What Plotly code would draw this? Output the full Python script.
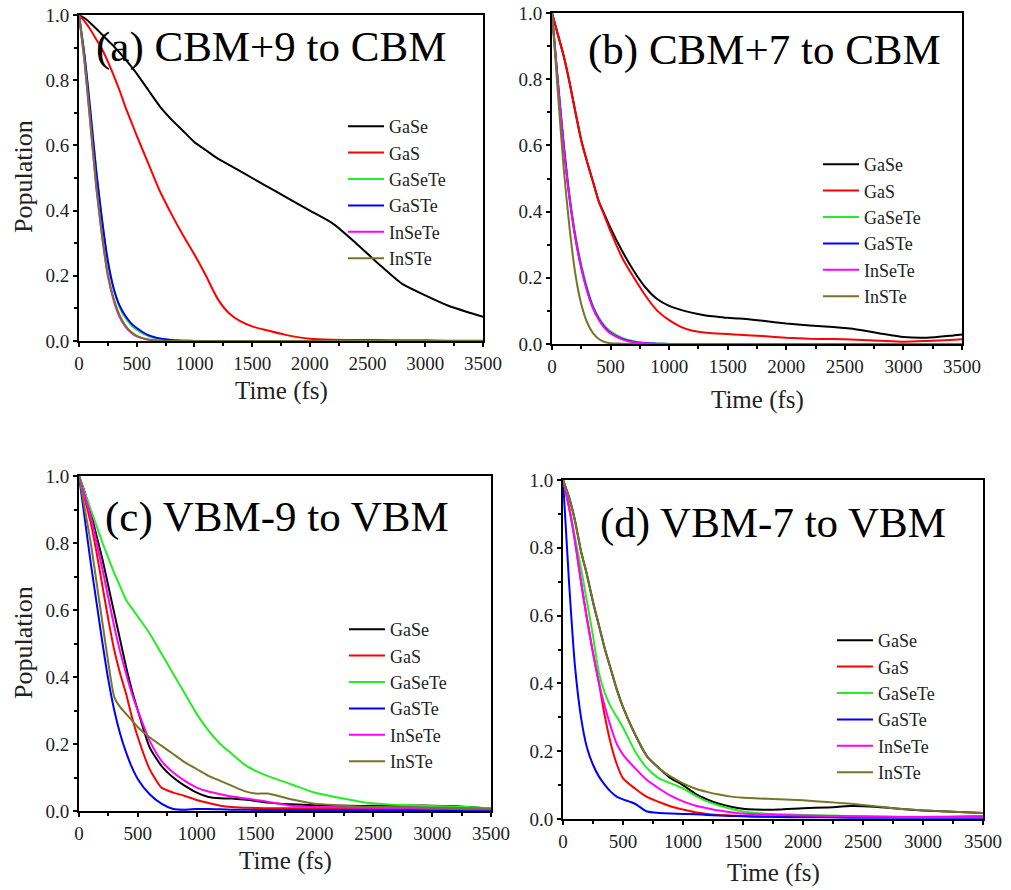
import plotly.graph_objects as go

# ---------------- data ----------------
T = [0, 50, 100, 150, 200, 250, 300, 350, 400, 450, 500, 600, 700, 800, 900, 1000,
     1100, 1200, 1300, 1400, 1500, 1600, 1800, 2000, 2200, 2400, 2600, 2800, 3000, 3200, 3400, 3500]

names = ["GaSe", "GaS", "GaSeTe", "GaSTe", "InSeTe", "InSTe"]
colors = ["#000000", "#FF0000", "#22EE22", "#0000FF", "#FF00FF", "#77752A"]
titles = ["(a) CBM+9 to CBM", "(b) CBM+7 to CBM", "(c) VBM-9 to VBM", "(d) VBM-7 to VBM"]

# (a) CBM+9 to CBM
a_GaSe = [1.0, 0.99, 0.975, 0.958, 0.94, 0.922, 0.905, 0.885, 0.865, 0.843, 0.82, 0.77, 0.72, 0.68, 0.645, 0.61,
          0.585, 0.56, 0.54, 0.52, 0.50, 0.48, 0.44, 0.40, 0.36, 0.30, 0.235, 0.175, 0.14, 0.108, 0.085, 0.074]
a_GaS = [1.0, 0.98, 0.955, 0.925, 0.895, 0.857, 0.815, 0.77, 0.72, 0.675, 0.63, 0.545, 0.46, 0.39, 0.325, 0.265,
         0.2, 0.13, 0.085, 0.06, 0.045, 0.035, 0.018, 0.007, 0.004, 0.003, 0.003, 0.002, 0.002, 0.001, 0.001, 0.001]
a_GaSeTe = [1.0, 0.87, 0.70, 0.52, 0.37, 0.245, 0.16, 0.105, 0.072, 0.05, 0.035, 0.015, 0.006, 0.002, 0.001, 0.0,
            0, 0, 0, 0, 0, 0, 0, 0, 0, 0, 0, 0, 0, 0, 0, 0]
a_GaSTe = [1.0, 0.87, 0.70, 0.52, 0.37, 0.245, 0.162, 0.11, 0.078, 0.055, 0.04, 0.018, 0.008, 0.003, 0.001, 0.0,
           0, 0, 0, 0, 0, 0, 0, 0, 0, 0, 0, 0, 0, 0, 0, 0]
a_InSeTe = [1.0, 0.85, 0.66, 0.47, 0.32, 0.2, 0.125, 0.075, 0.045, 0.026, 0.014, 0.004, 0.001, 0.0, 0.0, 0.0,
            0, 0, 0, 0, 0, 0, 0, 0, 0, 0, 0, 0, 0, 0, 0, 0]
a_InSTe = [1.0, 0.85, 0.665, 0.475, 0.325, 0.205, 0.13, 0.08, 0.048, 0.028, 0.016, 0.005, 0.001, 0.0, 0.0, 0.0,
           0, 0, 0, 0, 0, 0, 0, 0, 0, 0, 0, 0, 0, 0, 0, 0]

# (b) CBM+7 to CBM
b_GaSe = [1.0, 0.935, 0.87, 0.79, 0.70, 0.615, 0.55, 0.49, 0.43, 0.39, 0.35, 0.28, 0.22, 0.17, 0.135, 0.115,
          0.103, 0.094, 0.087, 0.083, 0.079, 0.077, 0.07, 0.062, 0.056, 0.051, 0.044, 0.032, 0.021, 0.019, 0.025, 0.029]
b_GaS = [1.0, 0.935, 0.87, 0.79, 0.70, 0.615, 0.55, 0.49, 0.43, 0.385, 0.34, 0.26, 0.2, 0.145, 0.1, 0.072,
         0.052, 0.04, 0.035, 0.032, 0.03, 0.028, 0.024, 0.019, 0.016, 0.015, 0.013, 0.01, 0.007, 0.009, 0.012, 0.014]
b_GaSeTe = [1.0, 0.8, 0.61, 0.45, 0.33, 0.24, 0.17, 0.115, 0.08, 0.055, 0.038, 0.018, 0.008, 0.003, 0.001, 0.0,
            0, 0, 0, 0, 0, 0, 0, 0, 0, 0, 0, 0, 0, 0, 0, 0]
b_GaSTe = [1.0, 0.79, 0.6, 0.44, 0.32, 0.23, 0.162, 0.11, 0.075, 0.05, 0.034, 0.015, 0.006, 0.002, 0.001, 0.0,
           0, 0, 0, 0, 0, 0, 0, 0, 0, 0, 0, 0, 0, 0, 0, 0]
b_InSeTe = [1.0, 0.79, 0.595, 0.44, 0.32, 0.23, 0.16, 0.108, 0.073, 0.048, 0.032, 0.014, 0.005, 0.002, 0.0, 0.0,
            0, 0, 0, 0, 0, 0, 0, 0, 0, 0, 0, 0, 0, 0, 0, 0]
b_InSTe = [1.0, 0.76, 0.53, 0.35, 0.21, 0.12, 0.065, 0.033, 0.015, 0.006, 0.002, 0.001, 0.0, 0.0, 0.0, 0.0,
           0, 0, 0, 0, 0, 0, 0, 0, 0, 0, 0, 0, 0, 0, 0, 0]

# (c) VBM-9 to VBM
c_GaSe = [1.0, 0.95, 0.89, 0.82, 0.75, 0.67, 0.59, 0.51, 0.43, 0.36, 0.3, 0.19, 0.135, 0.1, 0.075, 0.055,
          0.042, 0.038, 0.037, 0.034, 0.03, 0.025, 0.02, 0.017, 0.016, 0.015, 0.016, 0.016, 0.016, 0.014, 0.01, 0.007]
c_GaS = [1.0, 0.93, 0.86, 0.77, 0.67, 0.57, 0.48, 0.41, 0.35, 0.28, 0.22, 0.125, 0.07, 0.055, 0.045, 0.033,
         0.024, 0.016, 0.012, 0.01, 0.009, 0.008, 0.008, 0.007, 0.007, 0.006, 0.006, 0.005, 0.005, 0.004, 0.004, 0.004]
c_GaSeTe = [1.0, 0.95, 0.9, 0.85, 0.8, 0.755, 0.71, 0.67, 0.63, 0.605, 0.58, 0.53, 0.47, 0.41, 0.35, 0.29,
            0.24, 0.2, 0.17, 0.14, 0.12, 0.105, 0.08, 0.055, 0.04, 0.027, 0.02, 0.017, 0.015, 0.013, 0.01, 0.008]
c_GaSTe = [1.0, 0.87, 0.74, 0.62, 0.5, 0.39, 0.3, 0.23, 0.175, 0.13, 0.095, 0.05, 0.022, 0.006, 0.004, 0.006,
           0.006, 0.005, 0.004, 0.004, 0.003, 0.003, 0.003, 0.003, 0.003, 0.003, 0.003, 0.003, 0.002, 0.002, 0.002, 0.002]
c_InSeTe = [1.0, 0.94, 0.88, 0.8, 0.72, 0.635, 0.55, 0.475, 0.41, 0.35, 0.3, 0.21, 0.15, 0.115, 0.09, 0.07,
            0.058, 0.05, 0.043, 0.038, 0.033, 0.028, 0.016, 0.012, 0.011, 0.01, 0.009, 0.008, 0.007, 0.006, 0.005, 0.005]
c_InSTe = [1.0, 0.9, 0.8, 0.68, 0.56, 0.44, 0.34, 0.31, 0.29, 0.27, 0.25, 0.22, 0.195, 0.17, 0.145, 0.125,
           0.105, 0.09, 0.075, 0.06, 0.052, 0.052, 0.035, 0.022, 0.017, 0.013, 0.012, 0.011, 0.01, 0.009, 0.008, 0.007]

# (d) VBM-7 to VBM
d_GaSe = [1.0, 0.95, 0.88, 0.79, 0.72, 0.64, 0.57, 0.5, 0.44, 0.38, 0.33, 0.25, 0.185, 0.15, 0.12, 0.1,
          0.075, 0.058, 0.045, 0.036, 0.03, 0.028, 0.028, 0.032, 0.034, 0.038, 0.036, 0.03, 0.025, 0.022, 0.019, 0.018]
d_GaS = [1.0, 0.92, 0.82, 0.7, 0.59, 0.49, 0.4, 0.3, 0.22, 0.16, 0.12, 0.09, 0.065, 0.05, 0.037, 0.028,
         0.02, 0.015, 0.012, 0.01, 0.009, 0.008, 0.007, 0.007, 0.006, 0.006, 0.006, 0.006, 0.006, 0.007, 0.008, 0.008]
d_GaSeTe = [1.0, 0.92, 0.83, 0.74, 0.64, 0.54, 0.43, 0.37, 0.33, 0.3, 0.27, 0.2, 0.15, 0.12, 0.105, 0.09,
            0.07, 0.052, 0.04, 0.03, 0.022, 0.018, 0.014, 0.012, 0.01, 0.009, 0.008, 0.007, 0.006, 0.006, 0.005, 0.005]
d_GaSTe = [1.0, 0.7, 0.45, 0.3, 0.21, 0.16, 0.125, 0.1, 0.08, 0.065, 0.058, 0.045, 0.022, 0.018, 0.016, 0.015,
           0.014, 0.012, 0.01, 0.009, 0.008, 0.007, 0.006, 0.005, 0.005, 0.004, 0.004, 0.004, 0.004, 0.004, 0.004, 0.004]
d_InSeTe = [1.0, 0.92, 0.82, 0.7, 0.59, 0.49, 0.4, 0.33, 0.27, 0.22, 0.19, 0.15, 0.115, 0.09, 0.068, 0.052,
            0.04, 0.032, 0.025, 0.02, 0.016, 0.014, 0.012, 0.01, 0.009, 0.008, 0.007, 0.006, 0.006, 0.006, 0.006, 0.006]
d_InSTe = [1.0, 0.95, 0.88, 0.79, 0.72, 0.64, 0.57, 0.5, 0.44, 0.38, 0.33, 0.25, 0.185, 0.15, 0.125, 0.105,
           0.09, 0.08, 0.072, 0.066, 0.063, 0.061, 0.058, 0.055, 0.05, 0.045, 0.038, 0.03, 0.026, 0.022, 0.019, 0.018]

panels = [
    [a_GaSe, a_GaS, a_GaSeTe, a_GaSTe, a_InSeTe, a_InSTe],
    [b_GaSe, b_GaS, b_GaSeTe, b_GaSTe, b_InSeTe, b_InSTe],
    [c_GaSe, c_GaS, c_GaSeTe, c_GaSTe, c_InSeTe, c_InSTe],
    [d_GaSe, d_GaS, d_GaSeTe, d_GaSTe, d_InSeTe, d_InSTe],
]

x_ticks = [0, 500, 1000, 1500, 2000, 2500, 3000, 3500]
y_ticks = [0.0, 0.2, 0.4, 0.6, 0.8, 1.0]

# ---------------- layout geometry (pixels) ----------------
W, H = 1011, 890
boxes = [  # left, right, top, bottom
    (79, 483, 15, 341),
    (552, 962, 13, 344),
    (79, 491, 476, 811),
    (563, 983, 480, 819),
]
title_pos = [(94, 47), (586, 50), (103, 517), (598, 523)]
legend_pos = [(343, 108), (818, 146), (344, 611), (832, 622)]
xlabel_y = [391, 400, 861, 873]
ylabel = [(23, 177), (None, None), (23, 643), (None, None)]

FONT = "Liberation Serif, Times New Roman, serif"
fig = go.Figure()

for p in range(4):
    xa = "x" if p == 0 else f"x{p+1}"
    ya = "y" if p == 0 else f"y{p+1}"
    leg = "legend" if p == 0 else f"legend{p+1}"
    for k in range(6):
        fig.add_trace(go.Scatter(
            x=T, y=panels[p][k], mode="lines", name=names[k],
            line=dict(color=colors[k], width=2, shape="spline", smoothing=0.6),
            xaxis=xa, yaxis=ya, legend=leg, showlegend=True))

layout = dict(
    width=W, height=H, margin=dict(l=0, r=0, t=0, b=0, autoexpand=False),
    paper_bgcolor="white", plot_bgcolor="white",
    font=dict(family=FONT, color="#222222"),
    annotations=[], showlegend=True,
)

for p in range(4):
    L, R, Tp, B = boxes[p]
    xd = [L / W, R / W]
    yd = [1 - B / H, 1 - Tp / H]
    n = p + 1
    xkey = "xaxis" if p == 0 else f"xaxis{n}"
    ykey = "yaxis" if p == 0 else f"yaxis{n}"
    yref = "y" if p == 0 else f"y{n}"
    xref = "x" if p == 0 else f"x{n}"
    common = dict(showgrid=False, zeroline=False, showline=True, linecolor="black",
                  linewidth=2, mirror=True, ticks="outside", ticklen=4, tickwidth=2,
                  tickcolor="black", automargin=False,
                  tickfont=dict(family=FONT, size=19, color="#222222"))
    layout[xkey] = dict(domain=xd, anchor=yref, range=[0, 3500], tickvals=x_ticks,
                        minor=dict(ticks="outside", ticklen=3, tickwidth=2, dtick=250,
                                   tickcolor="black", showgrid=False), **common)
    layout[ykey] = dict(domain=yd, anchor=xref, range=[0, 1], tickvals=y_ticks,
                        tickformat=".1f",
                        minor=dict(ticks="outside", ticklen=3, tickwidth=2, dtick=0.1,
                                   tickcolor="black", showgrid=False), **common)
    # inside ticks on top / right
    layout[f"xaxis{n+4}"] = dict(overlaying=xref, side="top", anchor=yref, range=[0, 3500],
                                 tickvals=x_ticks, ticks="inside", ticklen=5, tickwidth=2,
                                 tickcolor="black", showticklabels=False, showgrid=False,
                                 zeroline=False, showline=False, automargin=False,
                                 minor=dict(ticks="inside", ticklen=3, tickwidth=2, dtick=250,
                                            tickcolor="black", showgrid=False))
    layout[f"yaxis{n+4}"] = dict(overlaying=yref, side="right", anchor=xref, range=[0, 1],
                                 tickvals=y_ticks, ticks="inside", ticklen=5, tickwidth=2,
                                 tickcolor="black", showticklabels=False, showgrid=False,
                                 zeroline=False, showline=False, automargin=False,
                                 minor=dict(ticks="inside", ticklen=3, tickwidth=2, dtick=0.1,
                                            tickcolor="black", showgrid=False))
    lkey = "legend" if p == 0 else f"legend{n}"
    lx, ly = legend_pos[p]
    layout[lkey] = dict(x=lx / W, y=1 - ly / H, xanchor="left", yanchor="top",
                        bgcolor="rgba(0,0,0,0)", borderwidth=0,
                        font=dict(family=FONT, size=18, color="#222222"),
                        itemwidth=36, tracegroupgap=0)
    tx, ty = title_pos[p]
    layout["annotations"].append(dict(
        text=titles[p], x=tx / W, y=1 - ty / H, xref="paper", yref="paper",
        xanchor="left", yanchor="middle", showarrow=False,
        font=dict(family=FONT, size=43, color="black")))
    layout["annotations"].append(dict(
        text="Time (fs)", x=(L + R) / 2 / W, y=1 - xlabel_y[p] / H, xref="paper", yref="paper",
        xanchor="center", yanchor="middle", showarrow=False,
        font=dict(family=FONT, size=25, color="#222222")))
    if ylabel[p][0] is not None:
        layout["annotations"].append(dict(
            text="Population", x=ylabel[p][0] / W, y=1 - ylabel[p][1] / H, xref="paper",
            yref="paper", xanchor="center", yanchor="middle", textangle=-90, showarrow=False,
            font=dict(family=FONT, size=26, color="#222222")))

fig.update_layout(**layout)
fig.write_html("out.html", config={"displayModeBar": False},
               post_script="document.body.style.margin='0';document.body.style.overflow='hidden';")
